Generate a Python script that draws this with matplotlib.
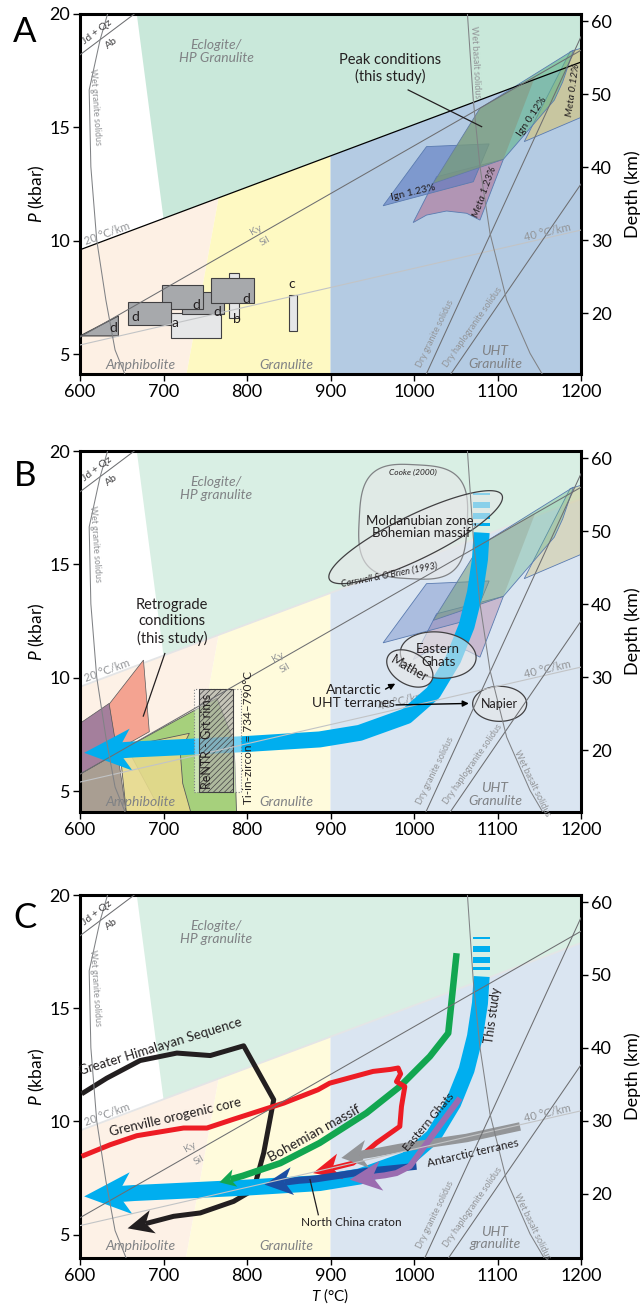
import numpy as np
import matplotlib.pyplot as plt
from matplotlib.patches import Polygon
from matplotlib.colors import to_rgba

plt.rcParams['font.family'] = ['Lato', 'DejaVu Sans']
plt.rcParams['mathtext.fontset'] = 'custom'
plt.rcParams['mathtext.it'] = 'Lato:italic'
plt.rcParams['mathtext.rm'] = 'Lato'
plt.rcParams['hatch.linewidth'] = 0.5

# ---------------- data ----------------
T_TICKS = [600, 700, 800, 900, 1000, 1100, 1200]
P_TICKS = [5, 10, 15, 20]
DEPTH_TICKS = [20, 30, 40, 50, 60]

# geotherms and reaction lines (T in degC, P in kbar)
GEO20_T, GEO20_P = [600, 1200], [9.6, 17.88]
GEO40_T, GEO40_P = [600, 1200], [5.4, 10.47]
KYSIL_T, KYSIL_P = [600, 1200], [5.75, 18.4]
JDQZ_T, JDQZ_P = [600, 665], [18.2, 20.0]
DRYGR_T, DRYGR_P = [1012, 1200], [3.9, 19.0]
DRYHAP_T, DRYHAP_P = [1040, 1200], [3.9, 12.5]
WETGR_T = [633, 624, 611, 613, 620, 631, 642, 656]
WETGR_P = [20.0, 18.85, 16.65, 13.26, 10.03, 7.38, 5.18, 3.9]
WETBAS_T = [1064, 1071, 1079, 1091, 1111, 1139, 1157]
WETBAS_P = [20.0, 16.2, 13.27, 10.33, 7.38, 5.03, 3.9]

# facies field boundaries
ECL_T = [668, 700]        # eclogite field left edge (top, bottom)
AMPH_T = [722, 766]       # amphibolite / granulite boundary (bottom, top)
UHT_T = 900

# panel A: published P-T boxes
BOX_T0 = [709, 722, 698, 657, 779, 757, 850]
BOX_T1 = [769, 773, 747, 709, 790, 808, 860]
BOX_P0 = [5.7, 6.75, 7.0, 6.28, 6.6, 7.24, 6.0]
BOX_P1 = [6.8, 7.75, 8.05, 7.31, 8.57, 8.37, 7.6]
BOX_DARK = [False, True, True, True, False, True, False]
TRI_T, TRI_P = [600, 646, 646], [5.8, 6.68, 5.8]
BOX_LAB = ['a', 'd', 'd', 'd', 'b', 'd', 'c', 'd']
BOX_LAB_T = [714, 764.5, 739.7, 666, 787.6, 799.6, 853.5, 639.7]
BOX_LAB_P = [6.36, 6.87, 7.16, 6.65, 6.53, 7.45, 8.1, 6.15]

# peak-condition fields
IGN123_T, IGN123_P = [963, 1015, 1090, 1071], [11.54, 14.15, 14.27, 12.60]
META123_T = [999, 1027, 1107, 1079, 1063, 1039, 1015]
META123_P = [10.80, 12.82, 13.59, 10.91, 11.21, 11.31, 11.13]
IGN012_T = [1023, 1079, 1191, 1178, 1168, 1107]
IGN012_P = [12.53, 15.84, 18.41, 17.0, 16.2, 13.59]
OVER_T, OVER_P = [1023, 1079, 1145, 1107], [12.53, 15.84, 17.24, 13.59]
META012_T, META012_P = [1132, 1187, 1200, 1200], [14.37, 18.34, 18.49, 15.44]

# panel B: retrograde fields
SALMON_T, SALMON_P = [635, 676, 683, 644], [8.84, 10.78, 7.62, 6.81]
PURPLE_T, PURPLE_P = [600, 635, 645, 600], [7.99, 8.87, 6.70, 5.75]
BROWN_T, BROWN_P = [600, 645, 656, 600], [5.75, 6.70, 3.9, 3.9]
GREENR_T = [656, 764, 783.6, 785.6, 787.6, 700]
GREENR_P = [6.93, 9.10, 7.25, 6.22, 3.9, 3.9]
YELR_T = [660, 731, 720, 723, 734, 656, 648]
YELR_P = [7.0, 7.55, 6.74, 5.34, 3.9, 3.9, 6.7]
RENTR_T = [743, 783]
TIZR_T = [736, 793]
RENTR_P = [4.97, 9.5]

# panel B: literature fields (centre T, centre P, half axes px, angle)
ELL_NAME = ['Cooke', 'Carswell', 'EG', 'Mather', 'Napier']
ELL_T = [999, 1002, 1029, 995, 1102.6]
ELL_P = [16.88, 16.2, 11.0, 10.41, 8.85]
ELL_A = [54, 96, 38, 25, 27]
ELL_B = [57, 22, 23, 16, 17.5]
ELL_ANG = [-3, 26, -6, -30, 0]
ELL_SHAPE = [3.2, 2, 2, 2, 2]

# P-T paths
STUDY_T = [1081, 1079, 1073, 1063, 1047, 1023, 991, 935, 887, 800, 700, 665]
STUDY_P = [16.40, 15.22, 13.75, 12.28, 10.81, 9.34, 8.31, 7.57, 7.28, 7.08, 6.90, 6.84]
STUDY_TIP = (605, 6.69)
STRIPE_P0 = [16.69, 16.99, 17.50, 18.06]
STRIPE_P1 = [16.81, 17.25, 17.75, 18.16]
STRIPE_T = [1071, 1091]
GHS_T = [602, 632, 672, 716, 756, 796, 832, 820, 808, 784, 744, 712]
GHS_P = [11.22, 11.91, 12.69, 13.02, 12.91, 13.34, 10.96, 8.61, 6.99, 6.47, 5.96, 5.81]
GHS_TIP = (657, 5.28)
GREN_T = [602, 636, 668, 724, 752, 784, 844, 885, 899, 951, 972, 981, 984, 979, 989, 985, 983, 955, 927]
GREN_P = [8.46, 8.97, 9.37, 9.71, 9.71, 10.10, 10.81, 11.40, 11.69, 12.21, 12.30, 12.36, 12.10, 11.76, 11.54, 10.66, 9.78, 9.05, 8.16]
GREN_TIP = (879, 7.72)
BOH_T = [1051, 1041, 1019, 983, 943, 887, 840, 795]
BOH_P = [17.43, 13.9, 12.87, 11.54, 10.37, 9.05, 8.16, 7.60]
BOH_TIP = (767, 7.31)
NCC_T, NCC_P = [1003, 943, 880, 862], [8.02, 7.80, 7.45, 7.40]
NCC_TIP = (821, 7.21)
EG_T, EG_P = [1055, 1027, 995, 979, 965], [11.03, 9.63, 8.02, 7.72, 7.62]
EG_TIP = (923, 7.43)
ANT_T, ANT_P = [1127, 1063, 983, 950], [9.78, 9.27, 8.83, 8.60]
ANT_TIP = (913, 8.39)

# ---------------- helpers ----------------
SX = 501 / 600.0     # px per degC
SY = 22.67           # px per kbar
W, H = 641.0, 1313.0
LINE_C = '#6d6e71'
LAB_C = '#939598'
FIELD_A = ['#c9e8da', '#fdf0e4', '#fef9c2', '#b4cbe3']
FIELD_BC = ['#d9efe4', '#fdf1e6', '#fffbdc', '#dae5f1']


def p20(t):
    return np.interp(t, GEO20_T, GEO20_P)


def poly(ax, T, P, fc, alpha=1.0, ec='none', lw=0.6, z=2, **kw):
    ax.add_patch(Polygon(np.column_stack([T, P]), closed=True,
                         fc=to_rgba(fc, alpha), ec=ec, lw=lw, zorder=z, **kw))


def ellipse_pts(Tc, Pc, a, b, ang, n=2.0):
    t = np.linspace(0, 2 * np.pi, 240)
    ct, st = np.cos(t), np.sin(t)
    x = a * np.sign(ct) * np.abs(ct) ** (2 / n)
    y = b * np.sign(st) * np.abs(st) ** (2 / n)
    th = np.radians(ang)
    dx = x * np.cos(th) - y * np.sin(th)
    dy = x * np.sin(th) + y * np.cos(th)
    return Tc + dx / SX, Pc + dy / SY


def arrow_path(ax, T, P, tip, color, lw_px, L, Wd, notch=0.72, z=5):
    T, P = list(T), list(P)
    dx, dy = (tip[0] - T[-1]) * SX, (tip[1] - P[-1]) * SY
    n = np.hypot(dx, dy)
    ux, uy = dx / n, dy / n
    nx, ny = -uy, ux

    def pt(a, b):
        return (tip[0] + a / SX, tip[1] + b / SY)
    nt = pt(-notch * L * ux, -notch * L * uy)
    ax.plot(T + [nt[0]], P + [nt[1]], color=color, lw=lw_px * 0.72,
            solid_capstyle='butt', solid_joinstyle='round', zorder=z)
    head = [tip, pt(-L * ux + Wd * nx, -L * uy + Wd * ny), nt,
            pt(-L * ux - Wd * nx, -L * uy - Wd * ny)]
    ax.add_patch(Polygon(head, closed=True, fc=color, ec='none', zorder=z))


def p2d(p):
    return (p - 0.37) / 0.322


def d2p(d):
    return d * 0.322 + 0.37


def make_axes(top, bottom, pbot):
    ax = fig.add_axes([80 / W, 1 - bottom / H, 501 / W, (bottom - top) / H])
    ax.set_xlim(600, 1200)
    ax.set_ylim(pbot, 20)
    ax.set_xticks(T_TICKS)
    ax.set_yticks(P_TICKS)
    ax.tick_params(direction='out', length=5, width=1, labelsize=13, pad=2)
    for s in ax.spines.values():
        s.set_linewidth(2.2)
    ax.set_ylabel(r'$\mathit{P}$ (kbar)', fontsize=12.5, labelpad=2)
    sec = ax.secondary_yaxis('right', functions=(p2d, d2p))
    sec.set_yticks(DEPTH_TICKS)
    sec.tick_params(direction='out', length=5, width=1, labelsize=13, pad=2)
    sec.spines['right'].set_visible(False)
    sec.set_ylabel('Depth (km)', fontsize=13, labelpad=9)
    return ax


def draw_base(ax, panel):
    cols = FIELD_A if panel == 'A' else FIELD_BC
    pb = 3.0
    poly(ax, [ECL_T[0], 1200, 1200, ECL_T[1]], [20, 20, p20(1200), p20(ECL_T[1])], cols[0], z=0)
    poly(ax, [600, AMPH_T[0], AMPH_T[1], 600], [pb, pb, p20(AMPH_T[1]), p20(600)], cols[1], z=0)
    poly(ax, [AMPH_T[0], UHT_T, UHT_T, AMPH_T[1]], [pb, pb, p20(UHT_T), p20(AMPH_T[1])], cols[2], z=0)
    poly(ax, [UHT_T, 1200, 1200, UHT_T], [pb, pb, p20(1200), p20(UHT_T)], cols[3], z=0)
    if panel == 'A':
        ax.plot(GEO20_T, GEO20_P, color='black', lw=0.9, zorder=6)
    else:
        ax.plot(GEO20_T, GEO20_P, color='#e4e5e6', lw=1.3, zorder=1)
    kw = dict(color=LINE_C, lw=0.75, zorder=6)
    ax.plot(GEO40_T, GEO40_P, color='#c2c4c6', lw=0.8, zorder=6)
    ax.plot(KYSIL_T, KYSIL_P, **kw)
    ax.plot(JDQZ_T, JDQZ_P, **kw)
    ax.plot(DRYGR_T, DRYGR_P, **kw)
    ax.plot(DRYHAP_T, DRYHAP_P, **kw)
    ax.plot(WETGR_T, WETGR_P, color='#808285', lw=0.75, zorder=6)
    ax.plot(WETBAS_T, WETBAS_P, color='#808285', lw=0.75, zorder=6)

    it = dict(color='#808285', style='italic', fontsize=10, ha='center', va='center', zorder=8)
    gran = 'Granulite' if panel == 'A' else 'granulite'
    ax.text(763, 18.35, 'Eclogite/\nHP ' + gran, linespacing=1.15, **it)
    ax.text(672, 4.52, 'Amphibolite', **it)
    ax.text(847.5, 4.52, 'Granulite', **it)
    uht = 'UHT\ngranulite' if panel == 'C' else 'UHT\nGranulite'
    ax.text(1097, 4.85, uht, linespacing=1.05, **it)

    sm = dict(color=LAB_C, fontsize=6.5, ha='center', va='center', zorder=8)
    ax.text(620, 19.22, 'Jd + Qz', rotation=37, color='#414042', fontsize=7.5, ha='center', va='center', zorder=8)
    ax.text(638, 18.73, 'Ab', rotation=37, color='#414042', fontsize=7.5, ha='center', va='center', zorder=8)
    ax.text(618, 15.9, 'Wet granite solidus', rotation=-86, **sm)
    ax.text(633, 10.3, '20 °C/km', rotation=20, color=LAB_C, fontsize=8, ha='center', va='center', zorder=8)
    ax.text(1160, 10.38, '40 °C/km', rotation=13, color=LAB_C, fontsize=8, ha='center', va='center', zorder=8)
    ky = {'A': (811, 10.47, 822, 9.96), 'B': (837, 10.93, 846, 10.42), 'C': (732, 8.87, 742, 8.28)}[panel]
    ax.text(ky[0], ky[1], 'Ky', rotation=30, color=LAB_C, fontsize=7.5, ha='center', va='center', zorder=8)
    ax.text(ky[2], ky[3], 'Sil', rotation=30, color=LAB_C, fontsize=7.5, ha='center', va='center', zorder=8)
    ax.text(1025, 5.9, 'Dry granite solidus', rotation=64, **sm)
    ax.text(1071, 6.2, 'Dry haplogranite solidus', rotation=55, **sm)
    if panel == 'A':
        ax.text(1074, 17.9, 'Wet basalt solidus', rotation=-87, **sm)
    else:
        ax.text(1141, 5.35, 'Wet basalt solidus', rotation=-64, **sm)


def draw_peak(ax, light):
    k = 0.6 if light else 1.0
    ec = '#5a7bb0'
    poly(ax, META123_T, META123_P, '#b07ea0', alpha=0.7 * k, ec=ec, lw=0.6, z=2)
    poly(ax, IGN123_T, IGN123_P, '#5a78c0', alpha=0.6 * k, ec=ec, lw=0.6, z=2)
    poly(ax, META012_T, META012_P, '#cfc58a', alpha=0.75 * k, ec=ec, lw=0.6, z=2)
    poly(ax, IGN012_T, IGN012_P, '#5fb38a', alpha=0.6 * k, ec=ec, lw=0.6, z=2)
    poly(ax, OVER_T, OVER_P, '#8a8a70', alpha=0.45 * k, z=2)


def draw_study(ax):
    arrow_path(ax, STUDY_T, STUDY_P, STUDY_TIP, '#00aeef', 16, 47, 21, z=4)
    for p0, p1 in zip(STRIPE_P0, STRIPE_P1):
        ax.fill_between(STRIPE_T, p0, p1, color='#00aeef', lw=0, zorder=4)


fig = plt.figure(figsize=(6.41, 13.13), dpi=100)

# ---------------- panel A ----------------
axA = make_axes(14, 374, 4.12)
draw_base(axA, 'A')
draw_peak(axA, False)
for t0, t1, p0, p1, dk in zip(BOX_T0, BOX_T1, BOX_P0, BOX_P1, BOX_DARK):
    poly(axA, [t0, t1, t1, t0], [p0, p0, p1, p1], '#a7a9ac' if dk else '#e6e7e8',
         ec='#414042', lw=0.8, z=3)
poly(axA, TRI_T, TRI_P, '#a7a9ac', ec='#414042', lw=0.8, z=3)
for lab, t, p in zip(BOX_LAB, BOX_LAB_T, BOX_LAB_P):
    axA.text(t, p, lab, fontsize=10, color='#231f20', ha='center', va='center', zorder=8)
axA.text(999, 12.12, 'Ign 1.23%', rotation=13, fontsize=7.5, color='#231f20', ha='center', va='center', zorder=8)
axA.text(1085, 12.16, 'Meta 1.23%', rotation=70, fontsize=7.5, style='italic', color='#231f20', ha='center', va='center', zorder=8)
axA.text(1141, 15.47, 'Ign 0.12%', rotation=56, fontsize=7.5, color='#231f20', ha='center', va='center', zorder=8)
axA.text(1191, 16.65, 'Meta 0.12%', rotation=82, fontsize=7.5, style='italic', color='#231f20', ha='center', va='center', zorder=8)
axA.text(971, 17.6, 'Peak conditions\n(this study)', fontsize=10.5, color='#231f20',
         ha='center', va='center', linespacing=1.2, zorder=8)
axA.plot([993, 1081], [16.65, 15.03], color='#231f20', lw=0.9, zorder=8)

# ---------------- panel B ----------------
axB = make_axes(451, 812, 4.08)
draw_base(axB, 'B')
draw_peak(axB, True)
poly(axB, BROWN_T, BROWN_P, '#a99e92', ec='#58595b', lw=0.5, z=2)
poly(axB, PURPLE_T, PURPLE_P, '#a47f9c', ec='#58595b', lw=0.5, z=2)
poly(axB, GREENR_T, GREENR_P, '#a6d07c', ec='#58595b', lw=0.6, z=2)
poly(axB, YELR_T, YELR_P, '#e6da8c', alpha=0.9, ec='#58595b', lw=0.6, z=2)
poly(axB, SALMON_T, SALMON_P, '#f4a391', ec='#58595b', lw=0.5, z=2)
draw_study(axB)
poly(axB, [TIZR_T[0], TIZR_T[1], TIZR_T[1], TIZR_T[0]], [RENTR_P[0], RENTR_P[0], RENTR_P[1], RENTR_P[1]],
     'white', alpha=0.45, ec='#808285', lw=0.8, z=5, linestyle=':')
poly(axB, [RENTR_T[0], RENTR_T[1], RENTR_T[1], RENTR_T[0]], [RENTR_P[0], RENTR_P[0], RENTR_P[1], RENTR_P[1]],
     '#8f8f86', alpha=0.5, ec='#414042', lw=0.8, z=5, hatch='//////')
axB.text(752, 7.2, 'ReNTR - Grt rims', rotation=90, fontsize=9, color='#231f20', ha='center', va='center', zorder=8)
axB.text(802, 7.35, 'Ti-in-zircon = 734–790°C', rotation=90, fontsize=8.5, color='#231f20', ha='center', va='center', zorder=8)
for name, tc, pc, a, b, ang, n in zip(ELL_NAME, ELL_T, ELL_P, ELL_A, ELL_B, ELL_ANG, ELL_SHAPE):
    et, ep = ellipse_pts(tc, pc, a, b, ang, n)
    ec = '#808285' if name == 'Cooke' else '#414042'
    poly(axB, et, ep, '#e6e7e8', alpha=0.6, ec=ec, lw=0.9, z=5)
tk = dict(color='#231f20', ha='center', va='center', zorder=8)
axB.text(999, 19.06, 'Cooke (2000)', fontsize=6, style='italic', **tk)
axB.text(971, 14.55, "Carswell & O'Brien (1993)", fontsize=6.5, style='italic', rotation=11, **tk)
axB.text(1009, 16.68, 'Moldanubian zone,\nBohemian massif', fontsize=9.5, linespacing=1.1, **tk)
axB.text(1029, 10.99, 'Eastern\nGhats', fontsize=9.5, linespacing=1.05, **tk)
axB.text(995, 10.41, 'Mather', fontsize=9, rotation=-30, **tk)
axB.text(1102.6, 8.85, 'Napier', fontsize=9, **tk)
axB.text(985, 8.95, '40 °C/km', rotation=13, color=LAB_C, fontsize=8, ha='center', va='center', zorder=3)
axB.text(928, 9.17, 'Antarctic\nUHT terranes', fontsize=10, linespacing=1.05, **tk)
axB.annotate('', xy=(980.5, 9.80), xytext=(963, 9.44),
             arrowprops=dict(arrowstyle='-|>', color='black', lw=1, mutation_scale=9), zorder=8)
axB.annotate('', xy=(1069, 8.87), xytext=(975, 8.80),
             arrowprops=dict(arrowstyle='-|>', color='black', lw=1, mutation_scale=9), zorder=8)
axB.text(710, 12.47, 'Retrograde\nconditions\n(this study)', fontsize=10.5, linespacing=1.2, **tk)
axB.plot([701.6, 675.8], [11.07, 8.31], color='#231f20', lw=0.9, zorder=8)

# ---------------- panel C ----------------
axC = make_axes(895, 1258, 3.97)
draw_base(axC, 'C')
arrow_path(axC, GHS_T, GHS_P, GHS_TIP, '#231f20', 5, 26, 12, z=3)
draw_study(axC)
arrow_path(axC, BOH_T, BOH_P, BOH_TIP, '#12a650', 6.5, 16, 9, z=4)
arrow_path(axC, GREN_T, GREN_P, GREN_TIP, '#ed1c24', 5, 28, 13, z=4)
arrow_path(axC, NCC_T, NCC_P, NCC_TIP, '#1b4ea3', 7, 28, 14, z=4)
arrow_path(axC, ANT_T, ANT_P, ANT_TIP, '#939598', 8.5, 26, 14, z=4)
arrow_path(axC, EG_T, EG_P, EG_TIP, '#9b6cb0', 6, 32, 15, z=5)
axC.text(696, 13.3, 'Greater Himalayan Sequence', fontsize=9.5, rotation=17, **tk)
axC.text(714, 10.2, 'Grenville orogenic core', fontsize=9.5, rotation=13, **tk)
axC.text(881, 9.45, 'Bohemian massif', fontsize=10, rotation=29, **tk)
axC.text(1095, 14.7, 'This study', fontsize=9, rotation=82, **tk)
axC.text(1017, 10.0, 'Eastern Ghats', fontsize=8.5, rotation=50, **tk)
axC.text(1071, 8.62, 'Antarctic terranes', fontsize=8.5, rotation=13, **tk)
axC.text(925, 5.52, 'North China craton', fontsize=8.5, **tk)
axC.plot([875.5, 885.4], [7.43, 5.88], color='#231f20', lw=0.9, zorder=8)
axC.set_xlabel(r'$\mathit{T}$ (°C)', fontsize=11, labelpad=2)

for lab, y in zip(['A', 'B', 'C'], [32, 476, 918]):
    fig.text(25 / W, 1 - y / H, lab, fontsize=25, ha='center', va='center')

fig.savefig('out.png', dpi=100)
